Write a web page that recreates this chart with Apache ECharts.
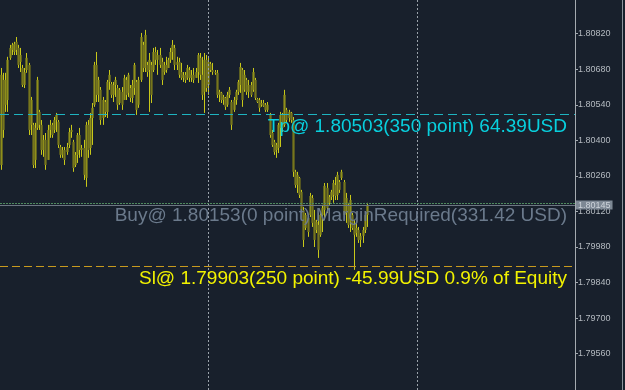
<!DOCTYPE html>
<html>
<head>
<meta charset="utf-8">
<script src="https://cdn.jsdelivr.net/npm/echarts@6/dist/echarts.min.js"></script>
<style>
  html, body { margin: 0; padding: 0; background: #18202c; }
  #chart { width: 625px; height: 390px; }
</style>
</head>
<body>
<div id="chart"></div>
<script>
// bars, left to right
const opens = [
  1.80303, 1.80638, 1.80540, 1.80559, 1.80725, 1.80756, 1.80748, 1.80788, 1.80764, 1.80709,
  1.80685, 1.80618, 1.80677, 1.80697, 1.80461, 1.80461, 1.80323, 1.80449, 1.80512, 1.80461,
  1.80362, 1.80402, 1.80323, 1.80441, 1.80461, 1.80441, 1.80480, 1.80473, 1.80374, 1.80343,
  1.80362, 1.80354, 1.80382, 1.80433, 1.80394, 1.80303, 1.80343, 1.80421, 1.80362, 1.80370,
  1.80252, 1.80461, 1.80370, 1.80488, 1.80540, 1.80697, 1.80579, 1.80599, 1.80488, 1.80551,
  1.80512, 1.80630, 1.80622, 1.80579, 1.80618, 1.80606, 1.80547, 1.80591, 1.80559, 1.80638,
  1.80587, 1.80606, 1.80567, 1.80606, 1.80630, 1.80540, 1.80638, 1.80776, 1.80685, 1.80697,
  1.80677, 1.80697, 1.80677, 1.80748, 1.80717, 1.80736, 1.80709, 1.80669, 1.80697, 1.80685,
  1.80717, 1.80748, 1.80764, 1.80697, 1.80709, 1.80669, 1.80646, 1.80658, 1.80646, 1.80677,
  1.80646, 1.80658, 1.80646, 1.80669, 1.80725, 1.80658, 1.80591, 1.80717, 1.80618, 1.80701,
  1.80677, 1.80669, 1.80666, 1.80579, 1.80587, 1.80559, 1.80567, 1.80540, 1.80579, 1.80551,
  1.80520, 1.80559, 1.80591, 1.80618, 1.80677, 1.80599, 1.80638, 1.80591, 1.80618, 1.80599,
  1.80638, 1.80563, 1.80559, 1.80540, 1.80547, 1.80540, 1.80520, 1.80500, 1.80429, 1.80394,
  1.80362, 1.80370, 1.80449, 1.80500, 1.80461, 1.80520, 1.80488, 1.80508, 1.80480, 1.80276,
  1.80224, 1.80252, 1.80197, 1.80126, 1.80055, 1.80095, 1.80106, 1.80173, 1.80087, 1.80047,
  1.80067, 1.80028, 1.80106, 1.80126, 1.80213, 1.80154, 1.80177, 1.80185, 1.80224, 1.80185,
  1.80236, 1.80252, 1.80236, 1.80114, 1.80146, 1.80079, 1.80106, 1.80067, 1.80035, 1.80047,
  1.80008, 1.80024, 1.80047, 1.80106
]
const closes = [
  1.80658, 1.80441, 1.80638, 1.80717, 1.80764, 1.80776, 1.80780, 1.80756, 1.80697, 1.80736,
  1.80618, 1.80669, 1.80725, 1.80441, 1.80559, 1.80303, 1.80449, 1.80638, 1.80461, 1.80362,
  1.80402, 1.80303, 1.80441, 1.80461, 1.80421, 1.80480, 1.80500, 1.80382, 1.80343, 1.80362,
  1.80323, 1.80374, 1.80433, 1.80441, 1.80291, 1.80343, 1.80421, 1.80362, 1.80370, 1.80264,
  1.80461, 1.80362, 1.80488, 1.80528, 1.80697, 1.80579, 1.80638, 1.80480, 1.80559, 1.80512,
  1.80630, 1.80658, 1.80579, 1.80618, 1.80638, 1.80540, 1.80599, 1.80540, 1.80646, 1.80579,
  1.80658, 1.80567, 1.80618, 1.80697, 1.80520, 1.80638, 1.80807, 1.80685, 1.80815, 1.80669,
  1.80717, 1.80579, 1.80748, 1.80717, 1.80736, 1.80697, 1.80638, 1.80697, 1.80677, 1.80717,
  1.80748, 1.80776, 1.80697, 1.80709, 1.80658, 1.80646, 1.80658, 1.80638, 1.80685, 1.80646,
  1.80658, 1.80638, 1.80669, 1.80736, 1.80658, 1.80579, 1.80717, 1.80606, 1.80709, 1.80677,
  1.80669, 1.80666, 1.80579, 1.80591, 1.80559, 1.80571, 1.80532, 1.80579, 1.80599, 1.80461,
  1.80559, 1.80591, 1.80630, 1.80689, 1.80559, 1.80658, 1.80591, 1.80618, 1.80579, 1.80669,
  1.80567, 1.80551, 1.80528, 1.80547, 1.80536, 1.80520, 1.80540, 1.80421, 1.80382, 1.80354,
  1.80382, 1.80461, 1.80500, 1.80449, 1.80579, 1.80480, 1.80512, 1.80480, 1.80276, 1.80224,
  1.80264, 1.80185, 1.80126, 1.80008, 1.80106, 1.80039, 1.80181, 1.80075, 1.80008, 1.80079,
  1.79969, 1.80106, 1.80134, 1.80221, 1.80134, 1.80177, 1.80197, 1.80232, 1.80181, 1.80264,
  1.80205, 1.80276, 1.80106, 1.80173, 1.80067, 1.80165, 1.80055, 1.80028, 1.80055, 1.80008,
  1.80024, 1.80047, 1.80106, 1.80146
]
const lows = [
  1.80284, 1.80410, 1.80512, 1.80512, 1.80717, 1.80736, 1.80736, 1.80736, 1.80685, 1.80669,
  1.80610, 1.80606, 1.80666, 1.80421, 1.80421, 1.80291, 1.80291, 1.80441, 1.80441, 1.80343,
  1.80335, 1.80284, 1.80323, 1.80410, 1.80410, 1.80429, 1.80433, 1.80370, 1.80331, 1.80331,
  1.80303, 1.80343, 1.80370, 1.80410, 1.80276, 1.80295, 1.80311, 1.80331, 1.80335, 1.80244,
  1.80217, 1.80331, 1.80343, 1.80382, 1.80532, 1.80551, 1.80551, 1.80461, 1.80461, 1.80492,
  1.80488, 1.80599, 1.80567, 1.80551, 1.80571, 1.80520, 1.80540, 1.80520, 1.80559, 1.80559,
  1.80571, 1.80551, 1.80547, 1.80579, 1.80500, 1.80528, 1.80630, 1.80669, 1.80669, 1.80650,
  1.80512, 1.80547, 1.80669, 1.80697, 1.80658, 1.80685, 1.80618, 1.80658, 1.80666, 1.80685,
  1.80705, 1.80717, 1.80677, 1.80677, 1.80646, 1.80638, 1.80630, 1.80626, 1.80638, 1.80630,
  1.80630, 1.80626, 1.80646, 1.80626, 1.80638, 1.80559, 1.80508, 1.80591, 1.80579, 1.80669,
  1.80658, 1.80658, 1.80567, 1.80551, 1.80547, 1.80540, 1.80520, 1.80532, 1.80567, 1.80441,
  1.80512, 1.80540, 1.80579, 1.80587, 1.80532, 1.80591, 1.80579, 1.80567, 1.80571, 1.80591,
  1.80559, 1.80547, 1.80512, 1.80532, 1.80532, 1.80512, 1.80512, 1.80410, 1.80374, 1.80343,
  1.80331, 1.80350, 1.80374, 1.80433, 1.80453, 1.80469, 1.80473, 1.80469, 1.80256, 1.80213,
  1.80193, 1.80173, 1.80114, 1.79980, 1.80047, 1.80020, 1.80098, 1.80059, 1.79980, 1.80035,
  1.79937, 1.80020, 1.80039, 1.80087, 1.80114, 1.80146, 1.80165, 1.80154, 1.80165, 1.80165,
  1.80193, 1.80244, 1.80087, 1.80075, 1.80055, 1.80039, 1.80047, 1.79890, 1.80020, 1.79996,
  1.79980, 1.79996, 1.80035, 1.80059
]
const highs = [
  1.80685, 1.80666, 1.80666, 1.80729, 1.80776, 1.80784, 1.80788, 1.80807, 1.80776, 1.80764,
  1.80697, 1.80685, 1.80744, 1.80705, 1.80571, 1.80469, 1.80469, 1.80650, 1.80520, 1.80480,
  1.80421, 1.80429, 1.80461, 1.80480, 1.80469, 1.80492, 1.80508, 1.80480, 1.80382, 1.80374,
  1.80374, 1.80390, 1.80449, 1.80461, 1.80402, 1.80354, 1.80429, 1.80449, 1.80382, 1.80402,
  1.80473, 1.80480, 1.80508, 1.80547, 1.80709, 1.80748, 1.80650, 1.80610, 1.80571, 1.80559,
  1.80638, 1.80677, 1.80630, 1.80630, 1.80650, 1.80618, 1.80606, 1.80610, 1.80658, 1.80650,
  1.80666, 1.80618, 1.80638, 1.80705, 1.80638, 1.80650, 1.80823, 1.80788, 1.80835, 1.80709,
  1.80744, 1.80709, 1.80764, 1.80768, 1.80756, 1.80764, 1.80725, 1.80709, 1.80729, 1.80725,
  1.80764, 1.80795, 1.80776, 1.80729, 1.80725, 1.80705, 1.80669, 1.80669, 1.80697, 1.80689,
  1.80677, 1.80685, 1.80685, 1.80744, 1.80744, 1.80729, 1.80744, 1.80736, 1.80729, 1.80709,
  1.80705, 1.80677, 1.80677, 1.80599, 1.80591, 1.80579, 1.80571, 1.80591, 1.80610, 1.80559,
  1.80571, 1.80599, 1.80638, 1.80705, 1.80685, 1.80677, 1.80646, 1.80638, 1.80630, 1.80685,
  1.80646, 1.80567, 1.80567, 1.80559, 1.80559, 1.80547, 1.80551, 1.80508, 1.80441, 1.80402,
  1.80390, 1.80469, 1.80512, 1.80508, 1.80599, 1.80528, 1.80520, 1.80512, 1.80492, 1.80284,
  1.80276, 1.80256, 1.80205, 1.80138, 1.80114, 1.80098, 1.80193, 1.80185, 1.80126, 1.80087,
  1.80114, 1.80114, 1.80146, 1.80232, 1.80232, 1.80185, 1.80205, 1.80244, 1.80256, 1.80276,
  1.80244, 1.80284, 1.80244, 1.80193, 1.80154, 1.80185, 1.80114, 1.80087, 1.80075, 1.80059,
  1.80035, 1.80059, 1.80114, 1.80154
]

// price scale labels on the right
const priceTicks = [1.7956, 1.7970, 1.7984, 1.7998, 1.8012, 1.8026, 1.8040, 1.8054, 1.8068, 1.8082, 1.8096]

const tpPrice = 1.80503
const buyPrice = 1.80153
const bidPrice = 1.80145
const slPrice = 1.79903
const tpText = 'Tp@ 1.80503(350 point) 64.39USD'
const buyText = 'Buy@ 1.80153(0 point) MarginRequired(331.42 USD)'
const slText = 'Sl@ 1.79903(250 point) -45.99USD 0.9% of Equity'

// time separators (bar index)
const separators = [98, 197]

const slotCount = 272
const categories = []
for (let i = 0; i < slotCount; i++) categories.push(String(i))

// [index, open, close, low, high]
const bars = opens.map((o, i) => [i, o, closes[i], lows[i], highs[i]])

const myChart = echarts.init(document.getElementById('chart'))

// each bar: thin yellow high-low line with a translucent olive body on top
const renderBar = (params, api) => {
  const idx = api.value(0)
  const o = api.value(1)
  const c = api.value(2)
  const top = api.coord([idx, api.value(4)])
  const bottom = api.coord([idx, api.value(3)])
  const bodyA = api.coord([idx, Math.max(o, c)])
  const bodyB = api.coord([idx, Math.min(o, c)])
  const x = Math.round(top[0]) + 0.5
  const bodyH = Math.max(1, bodyB[1] - bodyA[1])
  return {
    type: 'group',
    children: [
      {
        type: 'line',
        shape: { x1: x, y1: top[1], x2: x, y2: bottom[1] },
        style: { stroke: '#c8c81a', lineWidth: 1 }
      },
      {
        type: 'rect',
        shape: { x: x - 1.5, y: bodyA[1], width: 3, height: bodyH },
        style: { fill: c >= o ? 'rgba(120,120,28,0.72)' : 'rgba(98,98,30,0.8)' }
      }
    ]
  }
}

const bigLabel = {
  show: true,
  position: 'insideEndBottom',
  distance: [8, 3],
  fontSize: 19,
  fontFamily: 'Liberation Sans'
}

const option = {
  backgroundColor: '#18202c',
  animation: false,
  grid: {
    left: 0,
    right: 50,
    top: 0,
    bottom: 0
  },
  xAxis: {
    type: 'category',
    data: categories,
    axisLine: { show: false },
    axisTick: { show: false },
    axisLabel: { show: false },
    splitLine: { show: false }
  },
  yAxis: {
    type: 'value',
    position: 'right',
    min: 1.794169,
    max: 1.809527,
    scale: true,
    axisLine: { show: true, lineStyle: { color: '#a4aab0', width: 1 } },
    axisTick: {
      show: true,
      length: 3,
      lineStyle: { color: '#a4aab0' },
      customValues: priceTicks
    },
    axisLabel: {
      show: true,
      margin: 3,
      color: '#b4bac0',
      fontSize: 9,
      fontFamily: 'Liberation Sans',
      customValues: priceTicks,
      formatter: (v) => v.toFixed(5)
    },
    splitLine: { show: false }
  },
  graphic: [
    {
      type: 'line',
      shape: { x1: 622.5, y1: 0, x2: 622.5, y2: 390 },
      style: { stroke: '#8c949c', lineWidth: 1 }
    }
  ],
  series: [
    {
      type: 'custom',
      renderItem: renderBar,
      data: bars,
      encode: { x: 0, y: [1, 2, 3, 4] }
    },
    {
      // order lines and session separators
      type: 'line',
      data: [],
      markLine: {
        silent: true,
        precision: 5,
        symbol: ['none', 'none'],
        animation: false,
        data: [
          ...separators.map((idx) => ({
            xAxis: idx,
            label: { show: false },
            lineStyle: { color: '#9aa2aa', type: [2, 2], width: 1 }
          })),
          {
            yAxis: tpPrice,
            lineStyle: { color: '#1eb4c0', type: [9, 5], width: 1 },
            label: { ...bigLabel, formatter: tpText, color: '#08d0de' }
          },
          {
            yAxis: buyPrice,
            lineStyle: { color: '#4f8a5e', type: [2, 1], width: 1 },
            label: { ...bigLabel, formatter: buyText, color: '#6b7a8c' }
          },
          {
            yAxis: bidPrice,
            lineStyle: { color: '#6c7682', type: 'solid', width: 1 },
            label: {
              show: true,
              position: 'end',
              distance: 1,
              formatter: bidPrice.toFixed(5),
              fontSize: 9,
              fontFamily: 'Liberation Sans',
              color: '#cdd3da',
              backgroundColor: '#7d8894',
              padding: [0, 2],
              lineHeight: 9
            }
          },
          {
            yAxis: slPrice,
            lineStyle: { color: '#c89a1e', type: [8, 4], width: 1 },
            label: { ...bigLabel, formatter: slText, color: '#f2f200' }
          }
        ]
      }
    }
  ]
}

myChart.setOption(option)
</script>
</body>
</html>
